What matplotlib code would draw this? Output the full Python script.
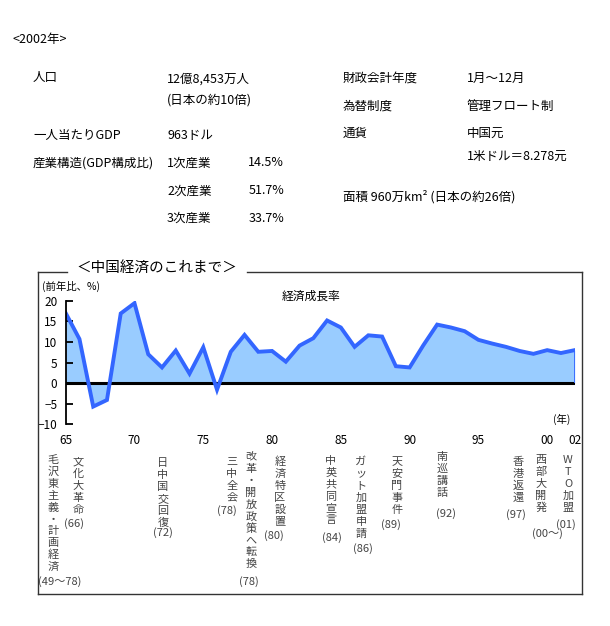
import numpy as np
import matplotlib
matplotlib.use('Agg')
import matplotlib.pyplot as plt
from matplotlib.lines import Line2D

plt.rcParams['font.family'] = ['Noto Sans CJK JP', 'DejaVu Sans']

# 経済成長率 (前年比、%)
years = np.arange(1965, 2003)
growth = [17.0, 10.7, -5.7, -4.1, 16.9, 19.4, 7.0, 3.8, 7.9, 2.3,
          8.7, -1.6, 7.6, 11.7, 7.6, 7.8, 5.2, 9.1, 10.9, 15.2,
          13.5, 8.8, 11.6, 11.3, 4.1, 3.8, 9.2, 14.2, 13.5, 12.6,
          10.5, 9.6, 8.8, 7.8, 7.1, 8.0, 7.3, 8.0]

xticks = [1965, 1970, 1975, 1980, 1985, 1990, 1995, 2000, 2002]
xtick_labels = ['65', '70', '75', '80', '85', '90', '95', '00', '02']
yticks = [-10, -5, 0, 5, 10, 15, 20]

# 上部の概要
left_items = [('人口', '12億8,453万人'), ('', '(日本の約10倍)'),
              ('一人当たりGDP', '963ドル'), ('産業構造(GDP構成比)', '1次産業')]
industry = [('1次産業', '14.5%'), ('2次産業', '51.7%'), ('3次産業', '33.7%')]
right_items = [('財政会計年度', '1月～12月'), ('為替制度', '管理フロート制'),
               ('通貨', '中国元'), ('', '1米ドル＝8.278元')]

# 出来事 (縦書き)
events = ['毛沢東主義・計画経済', '文化大革命', '日中国交回復', '三中全会',
          '改革・開放政策へ転換', '経済特区設置', '中英共同宣言', 'ガット加盟申請',
          '天安門事件', '南巡講話', '香港返還', '西部大開発', 'WTO加盟']
event_years = ['(49～78)', '(66)', '(72)', '(78)', '(78)', '(80)', '(84)',
               '(86)', '(89)', '(92)', '(97)', '(00～)', '(01)']

W, H = 610, 626
fig = plt.figure(figsize=(W / 100, H / 100), dpi=100)


def px(x, y):
    return x / W, 1 - y / H


def txt(x, y, s, **kw):
    kw.setdefault('fontsize', 9)
    kw.setdefault('va', 'center')
    fig.text(*px(x, y), s, **kw)


# ---- 上部テキスト
txt(12, 40, '<2002年>')
txt(33, 78, '人口')
txt(167, 79, '12億8,453万人')
txt(167, 100, '(日本の約10倍)')
txt(33, 135, '一人当たりGDP')
txt(167, 136, '963ドル')
txt(33, 163, '産業構造(GDP構成比)')
for i, (name, val) in enumerate(industry):
    y = 163 + i * 27.8
    txt(167, y, name)
    txt(284, y, val, ha='right')
rows_y = [78, 106, 133, 156]
for (a, b), y in zip(right_items, rows_y):
    if a:
        txt(343, y, a)
    txt(467, y, b)
txt(343, 197, '面積 960万km² (日本の約26倍)')

# ---- 枠とタイトル
fl, fr, ft, fb = 37.5, 581.5, 271.5, 594
frame_kw = dict(color='#333333', lw=1.0, transform=fig.transFigure)
for xs, ys in [((fl, 67), (ft, ft)), ((247, fr), (ft, ft)),
               ((fl, fl), (ft, fb)), ((fr, fr), (ft, fb)), ((fl, fr), (fb, fb))]:
    p0, p1 = px(xs[0], ys[0]), px(xs[1], ys[1])
    fig.add_artist(Line2D([p0[0], p1[0]], [p0[1], p1[1]], **frame_kw))
txt(157, 268, '＜中国経済のこれまで＞', fontsize=10.5, ha='center')

# ---- グラフ
x0, x1, y0, y1 = 65.7, 574.7, 300.7, 424.3
ax = fig.add_axes([x0 / W, 1 - y1 / H, (x1 - x0) / W, (y1 - y0) / H])
ax.fill_between(years, growth, 0, color='#99CCFF', lw=0)
ax.axhline(0, color='black', lw=2.2)
ax.plot(years, growth, color='#3366FF', lw=2.8, solid_joinstyle='miter')
ax.vlines(years[-1], 0, growth[-1], color='#3366FF', lw=1.3)
ax.set_xlim(1965, 2002)
ax.set_ylim(-10, 20)
ax.set_yticks(yticks)
ax.set_xticks(xticks)
ax.set_xticklabels(xtick_labels)
ax.tick_params(axis='y', direction='in', length=5, width=1.3, labelsize=8.5, pad=6)
ax.tick_params(axis='x', length=0, labelsize=8.5, pad=7)
for s in ['top', 'right', 'bottom']:
    ax.spines[s].set_visible(False)
ax.spines['left'].set_linewidth(1.3)
ax.patch.set_alpha(0)

txt(42, 286, '(前年比、%)', fontsize=7.5)
txt(311, 296, '経済成長率', fontsize=8.5, ha='center')
txt(562, 419, '(年)', fontsize=7.5, ha='center')

# ---- 縦書きの出来事
ev_x = [53, 78, 163, 232, 251, 280, 331, 361, 397, 442, 518, 541, 568]
ev_top = [460, 462, 463, 462, 457, 462, 461, 462, 462, 457, 462, 460, 460]
lab_pos = [(60, 582), (74, 524), (163, 533), (227, 511), (249, 582), (274, 536),
           (332, 538), (363, 549), (391, 525), (446, 514), (516, 515), (547, 534),
           (566, 525)]
step = 11.9
for name, lab, x, top, (lx, ly) in zip(events, event_years, ev_x, ev_top, lab_pos):
    for i, ch in enumerate(name):
        txt(x, top + i * step, ch, fontsize=8, ha='center', color='#444444')
    txt(lx, ly, lab, fontsize=8, ha='center', color='#444444')

fig.savefig('out.png', dpi=100)
